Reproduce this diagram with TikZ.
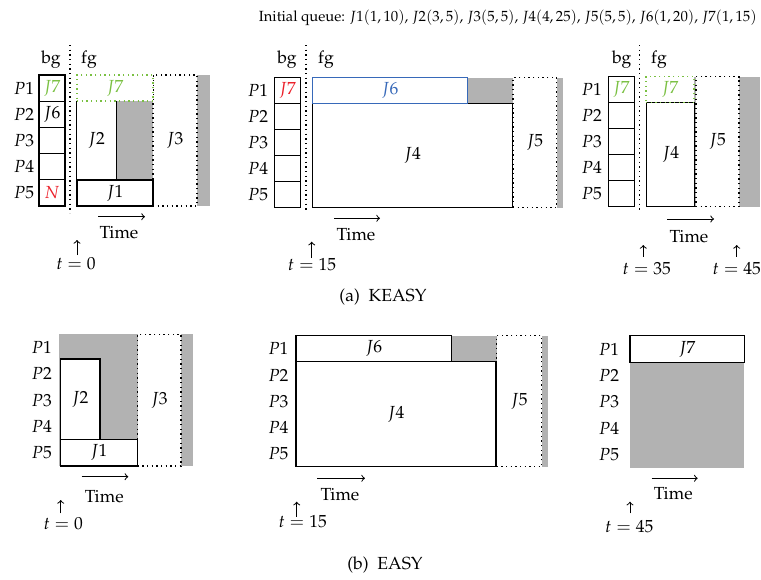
\documentclass[tikz,border=0pt]{standalone}
\usepackage[T1]{fontenc}
\usepackage{mathpazo}
\usetikzlibrary{fit}
\definecolor{kgreen}{RGB}{122,192,66}
\definecolor{kred}{RGB}{235,30,40}
\definecolor{kblue}{RGB}{55,105,185}
\definecolor{idlegray}{RGB}{178,178,178}
\tikzset{
  job/.style={draw, fill=white, line width=0.7pt, inner sep=0pt},
  dotjob/.style={draw, dotted, fill=white, line width=0.8pt, inner sep=0pt},
  greenjob/.style={draw=kgreen, dotted, fill=white, line width=0.8pt, inner sep=0pt},
  bluejob/.style={draw=kblue, fill=white, line width=0.7pt, inner sep=0pt},
  cell/.style={draw, line width=0.7pt, inner sep=0pt},
  edge/.style={line width=0.7pt},
  sepline/.style={dotted, line width=0.8pt},
  idle/.style={fill=idlegray},
  timearrow/.style={->, line width=0.6pt},
  tarrow/.style={->, line width=0.6pt},
  lbl/.style={inner sep=0pt},
  every label/.style={inner sep=0pt},
}
\begin{document}
\begin{tikzpicture}[x=0.6pt, y=-0.6pt, font=\fontsize{10.5}{12.6}\selectfont]
\useasboundingbox (0,0) rectangle (761,579);

\node[lbl, anchor=east, font=\fontsize{8.85}{11}\selectfont] (title) at (757,18) {Initial queue: $J1(1,10)$, $J2(3,5)$, $J3(5,5)$, $J4(4,25)$, $J5(5,5)$, $J6(1,20)$, $J7(1,15)$};

% ===================== (a) panel 1 : t=0 =====================
\node[lbl] (a1bg) at (51,60) {bg};
\node[lbl] (a1fg) at (89,60) {fg};
\coordinate (a1s1) at (70,45); \coordinate (a1s2) at (70,213);
\draw[sepline] (a1s1) -- (a1s2);
\node[lbl] (a1p1) at (24,88.1) {$P1$};
\node[lbl] (a1p2) at (24,114.3) {$P2$};
\node[lbl] (a1p3) at (24,140.5) {$P3$};
\node[lbl] (a1p4) at (24,166.7) {$P4$};
\node[lbl] (a1p5) at (24,192.9) {$P5$};
\node[cell, fit={(39,75)(65,101.2)}, label={[text=kgreen]center:$J7$}] (a1c1) {};
\node[cell, fit={(39,101.2)(65,127.4)}, label={center:$J6$}] (a1c2) {};
\node[cell, fit={(39,127.4)(65,153.6)}] (a1c3) {};
\node[cell, fit={(39,153.6)(65,179.8)}] (a1c4) {};
\node[cell, fit={(39,179.8)(65,206)}, label={[text=kred]center:$N$}] (a1c5) {};
\fill[idle] (77,75) rectangle (210,206);
\node[fill=white, inner sep=0pt, fit={(77,101)(116,180)}, label={center:$J2$}] (a1J2) {};
\draw[edge] (a1J2.north west) -- (a1J2.south west);
\draw[edge] (a1J2.north east) -- (a1J2.south east);
\node[dotjob, fit={(153,75)(197,206)}, label={center:$J3$}] (a1J3) {};
\node[job, fit={(77,180)(153,206)}, label={center:$J1$}] (a1J1) {};
\node[greenjob, fit={(77,75)(153,101)}, label={[text=kgreen]center:$J7$}] (a1J7) {};
\coordinate (a1ta) at (98,216.7); \coordinate (a1tb) at (145,216.7);
\draw[timearrow] (a1ta) -- (a1tb);
\node[lbl] (a1time) at (119,233) {Time};
\coordinate (a1ua) at (77,255); \coordinate (a1ub) at (77,240);
\draw[tarrow] (a1ua) -- (a1ub);
\node[lbl] (a1t) at (76,264) {$t=0$};

% ===================== (a) panel 2 : t=15 =====================
\node[lbl] (a2bg) at (287,60) {bg};
\node[lbl] (a2fg) at (326,60) {fg};
\coordinate (a2s1) at (306,45); \coordinate (a2s2) at (306,212);
\draw[sepline] (a2s1) -- (a2s2);
\node[lbl] (a2p1) at (258,90.7) {$P1$};
\node[lbl] (a2p2) at (258,116.7) {$P2$};
\node[lbl] (a2p3) at (258,142.7) {$P3$};
\node[lbl] (a2p4) at (258,168.7) {$P4$};
\node[lbl] (a2p5) at (258,194.7) {$P5$};
\node[cell, fit={(274.3,77.7)(300.7,103.7)}, label={[text=kred]center:$J7$}] (a2c1) {};
\node[cell, fit={(274.3,103.7)(300.7,129.7)}] (a2c2) {};
\node[cell, fit={(274.3,129.7)(300.7,155.7)}] (a2c3) {};
\node[cell, fit={(274.3,155.7)(300.7,181.7)}] (a2c4) {};
\node[cell, fit={(274.3,181.7)(300.7,207.7)}] (a2c5) {};
\fill[idle] (312.3,77.7) rectangle (563.3,207.7);
\node[dotjob, fit={(513,77.7)(556.7,207.7)}, label={center:$J5$}] (a2J5) {};
\node[job, fit={(312.3,103.3)(512.7,207.7)}, label={center:$J4$}] (a2J4) {};
\node[bluejob, fit={(312.3,77.7)(467.7,103.3)}, label={[text=kblue]center:$J6$}] (a2J6) {};
\coordinate (a2ta) at (334,218.3); \coordinate (a2tb) at (380,218.3);
\draw[timearrow] (a2ta) -- (a2tb);
\node[lbl] (a2time) at (356,235) {Time};
\coordinate (a2ua) at (311.7,258); \coordinate (a2ub) at (311.7,241.7);
\draw[tarrow] (a2ua) -- (a2ub);
\node[lbl] (a2t) at (312,265) {$t=15$};

% ===================== (a) panel 3 : t=35 =====================
\node[lbl] (a3bg) at (621.7,60) {bg};
\node[lbl] (a3fg) at (659,60) {fg};
\coordinate (a3s1) at (639.3,45); \coordinate (a3s2) at (639.3,212);
\draw[sepline] (a3s1) -- (a3s2);
\node[lbl] (a3p1) at (591.7,89.7) {$P1$};
\node[lbl] (a3p2) at (591.7,115.7) {$P2$};
\node[lbl] (a3p3) at (591.7,141.7) {$P3$};
\node[lbl] (a3p4) at (591.7,167.7) {$P4$};
\node[lbl] (a3p5) at (591.7,193.7) {$P5$};
\node[cell, fit={(608.3,76.7)(634.3,102.7)}, label={[text=kgreen]center:$J7$}] (a3c1) {};
\node[cell, fit={(608.3,102.7)(634.3,128.7)}] (a3c2) {};
\node[cell, fit={(608.3,128.7)(634.3,154.7)}] (a3c3) {};
\node[cell, fit={(608.3,154.7)(634.3,180.7)}] (a3c4) {};
\node[cell, fit={(608.3,180.7)(634.3,206.7)}] (a3c5) {};
\fill[idle] (646,76.7) rectangle (760,206.7);
\node[dotjob, fit={(696,76.7)(739,206.7)}, label={center:$J5$}] (a3J5) {};
\node[job, fit={(646.7,102.3)(694.7,206.7)}, label={center:$J4$}] (a3J4) {};
\node[greenjob, fit={(646,76.7)(694,102.3)}, label={[text=kgreen]center:$J7$}] (a3J7) {};
\coordinate (a3ta) at (667.3,219); \coordinate (a3tb) at (714,219);
\draw[timearrow] (a3ta) -- (a3tb);
\node[lbl] (a3time) at (689,236.7) {Time};
\coordinate (a3ua) at (643.3,256.7); \coordinate (a3ub) at (643.3,245);
\draw[tarrow] (a3ua) -- (a3ub);
\node[lbl] (a3t) at (646.7,268.3) {$t=35$};
\coordinate (a3va) at (736.7,256.7); \coordinate (a3vb) at (736.7,245);
\draw[tarrow] (a3va) -- (a3vb);
\node[lbl] (a3t2) at (736.7,268.3) {$t=45$};

\node[lbl] (capa) at (383,297) {(a)~~KEASY};

% ===================== (b) panel 1 : t=0 =====================
\node[lbl] (b1p1) at (41.7,347.5) {$P1$};
\node[lbl] (b1p2) at (41.7,373.8) {$P2$};
\node[lbl] (b1p3) at (41.7,400.1) {$P3$};
\node[lbl] (b1p4) at (41.7,426.4) {$P4$};
\node[lbl] (b1p5) at (41.7,452.7) {$P5$};
\fill[idle] (59.3,334.3) rectangle (192.7,466);
\node[job, fit={(60.3,359)(100,439.3)}, label={center:$J2$}] (b1J2) {};
\node[dotjob, fit={(137.7,334.3)(181,466)}, label={center:$J3$}] (b1J3) {};
\node[job, fit={(60.3,439.3)(137.7,466)}, label={center:$J1$}] (b1J1) {};
\coordinate (b1ta) at (81.7,476.7); \coordinate (b1tb) at (128.3,476.7);
\draw[timearrow] (b1ta) -- (b1tb);
\node[lbl] (b1time) at (104.3,496.7) {Time};
\coordinate (b1ua) at (60.7,513.3); \coordinate (b1ub) at (60.7,500);
\draw[tarrow] (b1ua) -- (b1ub);
\node[lbl] (b1t) at (63.3,524) {$t=0$};

% ===================== (b) panel 2 : t=15 =====================
\node[lbl] (b2p1) at (278.3,348.8) {$P1$};
\node[lbl] (b2p2) at (278.3,375) {$P2$};
\node[lbl] (b2p3) at (278.3,401.2) {$P3$};
\node[lbl] (b2p4) at (278.3,427.4) {$P4$};
\node[lbl] (b2p5) at (278.3,453.6) {$P5$};
\fill[idle] (296,335.7) rectangle (547.7,466.7);
\node[dotjob, fit={(496.7,335.7)(541.7,466.7)}, label={center:$J5$}] (b2J5) {};
\node[job, fit={(296,361.7)(496,466.7)}, label={center:$J4$}] (b2J4) {};
\node[job, fit={(296,335.7)(451.7,361.7)}, label={center:$J6$}] (b2J6) {};
\coordinate (b2ta) at (317.3,478.3); \coordinate (b2tb) at (365,478.3);
\draw[timearrow] (b2ta) -- (b2tb);
\node[lbl] (b2time) at (340,495) {Time};
\coordinate (b2ua) at (296.7,516.7); \coordinate (b2ub) at (296.7,501.7);
\draw[tarrow] (b2ua) -- (b2ub);
\node[lbl] (b2t) at (302.7,521.7) {$t=15$};

% ===================== (b) panel 3 : t=45 =====================
\node[lbl] (b3p1) at (609,349) {$P1$};
\node[lbl] (b3p2) at (609,375.5) {$P2$};
\node[lbl] (b3p3) at (609,402) {$P3$};
\node[lbl] (b3p4) at (609,428.5) {$P4$};
\node[lbl] (b3p5) at (609,455) {$P5$};
\fill[idle] (630,335.7) rectangle (744.3,468.3);
\node[job, fit={(630,335.7)(744.3,362.3)}, label={center:$J7$}] (b3J7) {};
\coordinate (b3ta) at (651.7,478.3); \coordinate (b3tb) at (697.7,478.3);
\draw[timearrow] (b3ta) -- (b3tb);
\node[lbl] (b3time) at (673.3,493.3) {Time};
\coordinate (b3ua) at (630,513.3); \coordinate (b3ub) at (630,501.7);
\draw[tarrow] (b3ua) -- (b3ub);
\node[lbl] (b3t) at (629.3,526.7) {$t=45$};

\node[lbl] (capb) at (385,565) {(b)~~EASY};
\end{tikzpicture}
\end{document}
